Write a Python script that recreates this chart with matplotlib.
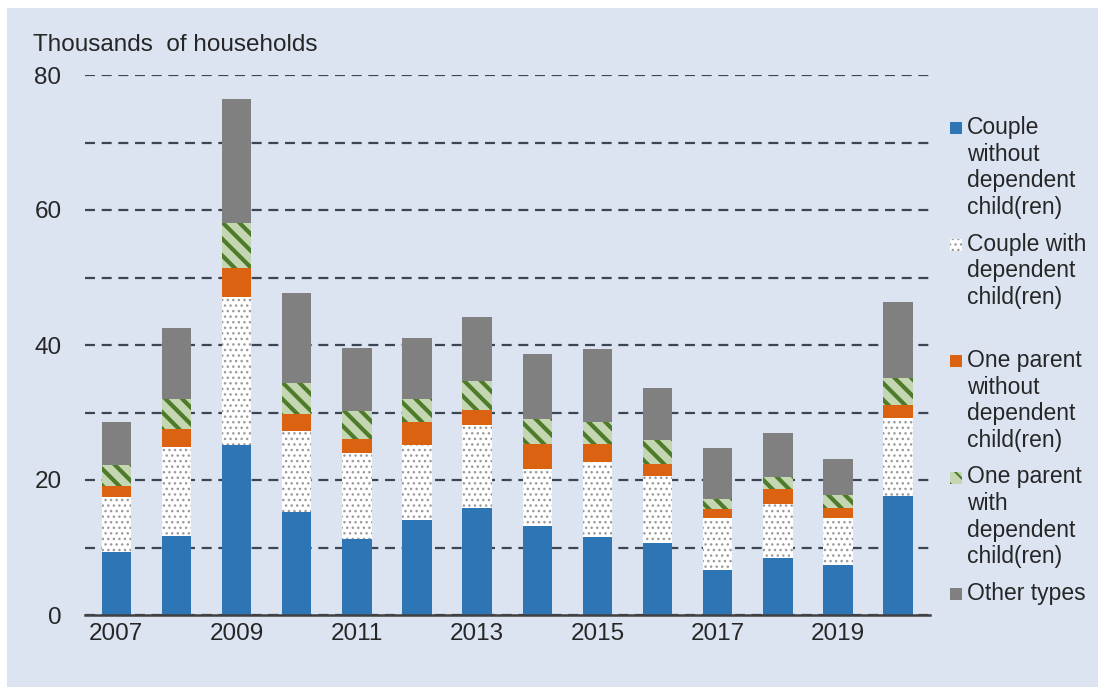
import numpy as np
import matplotlib
matplotlib.use('Agg')
import matplotlib.pyplot as plt
from matplotlib.patches import Rectangle

plt.rcParams['font.family'] = ['Liberation Sans', 'DejaVu Sans']

years = np.arange(2007, 2021)
couple_no_child = [9.4, 11.7, 25.2, 15.3, 11.3, 14.1, 15.8, 13.2, 11.6, 10.7, 6.7, 8.4, 7.4, 17.7]
couple_child = [8.1, 13.2, 21.9, 11.9, 12.7, 11.1, 12.3, 8.5, 11.1, 9.9, 7.6, 8.1, 7.0, 11.5]
one_parent_no_child = [1.6, 2.6, 4.3, 2.6, 2.1, 3.4, 2.2, 3.6, 2.6, 1.7, 1.4, 2.1, 1.4, 1.9]
one_parent_child = [3.1, 4.5, 6.7, 4.5, 4.1, 3.4, 4.3, 3.7, 3.3, 3.6, 1.5, 1.9, 2.0, 4.0]
other_types = [6.4, 10.5, 18.4, 13.4, 9.3, 9.0, 9.5, 9.6, 10.8, 7.7, 7.6, 6.5, 5.3, 11.3]

series = [couple_no_child, couple_child, one_parent_no_child, one_parent_child, other_types]
labels = ['Couple\nwithout\ndependent\nchild(ren)',
          'Couple with\ndependent\nchild(ren)',
          'One parent\nwithout\ndependent\nchild(ren)',
          'One parent\nwith\ndependent\nchild(ren)',
          'Other types']

# face colour, hatch colour, hatch, hatch line width
styles = [('#2e75b6', '#2e75b6', None, 1.0),
          ('#ffffff', '#9a9a9a', '...', 1.0),
          ('#da6210', '#da6210', None, 1.0),
          ('#c4d7b2', '#4e7b2a', '\\\\', 3.0),
          ('#808080', '#808080', None, 1.0)]

text_col = '#262626'
panel_col = '#dce4f2'

fig = plt.figure(figsize=(10.98, 6.91), dpi=100)
fig.patch.set_facecolor('white')
fig.add_artist(Rectangle((7/1098, 4/691), 1 - 7/1098, 1 - 12/691,
                         transform=fig.transFigure, facecolor=panel_col,
                         edgecolor='none', zorder=-10))

ax = fig.add_axes([85/1098, 76/691, 845/1098, 540/691])
ax.set_facecolor('none')

x = np.arange(len(years))
bottom = np.zeros(len(years))
for vals, (fc, hc, hatch, hlw) in zip(series, styles):
    with plt.rc_context({'hatch.linewidth': hlw}):
        ax.bar(x, vals, width=0.49, bottom=bottom, color=fc, edgecolor=hc,
               hatch=hatch, linewidth=0, zorder=3)
    bottom += np.array(vals)

ax.set_xlim(-0.52, len(years) - 0.47)
ax.set_ylim(0, 80)
ax.set_yticks([0, 20, 40, 60, 80])
ax.set_yticks([10, 30, 50, 70], minor=True)
ax.set_xticks(x[::2])
ax.set_xticklabels([str(y) for y in years[::2]])
ax.tick_params(axis='both', which='both', length=0, labelsize=17.5, colors=text_col)
ax.tick_params(axis='y', pad=17)
ax.tick_params(axis='x', pad=6)

ax.grid(axis='y', which='both', color='#3c4554', linestyle=(0, (4.5, 3)),
        linewidth=1.6, zorder=0)
ax.set_axisbelow(True)
for s in ['top', 'right', 'left']:
    ax.spines[s].set_visible(False)
ax.spines['bottom'].set_color('#404040')
ax.spines['bottom'].set_linewidth(1.8)
ax.spines['bottom'].set_zorder(4)

fig.text(33/1098, 1 - 45/691, 'Thousands  of households', fontsize=17.5,
         color=text_col, va='center', ha='left')

# legend on the right, one entry every ~116 px
leg_top = 128
leg_step = 116.5
for i, (lab, (fc, hc, hatch, hlw)) in enumerate(zip(labels, styles)):
    yc = leg_top + i * leg_step
    with plt.rc_context({'hatch.linewidth': min(hlw, 1.5)}):
        fig.add_artist(Rectangle((950/1098, 1 - (yc + 6)/691), 12/1098, 12/691,
                                 transform=fig.transFigure, facecolor=fc,
                                 edgecolor=hc, hatch=hatch, linewidth=0))
    fig.text(967/1098, 1 - (yc - 12)/691, lab, fontsize=16.5, color=text_col,
             va='top', ha='left', linespacing=1.2)

fig.savefig('out.png', dpi=100)
